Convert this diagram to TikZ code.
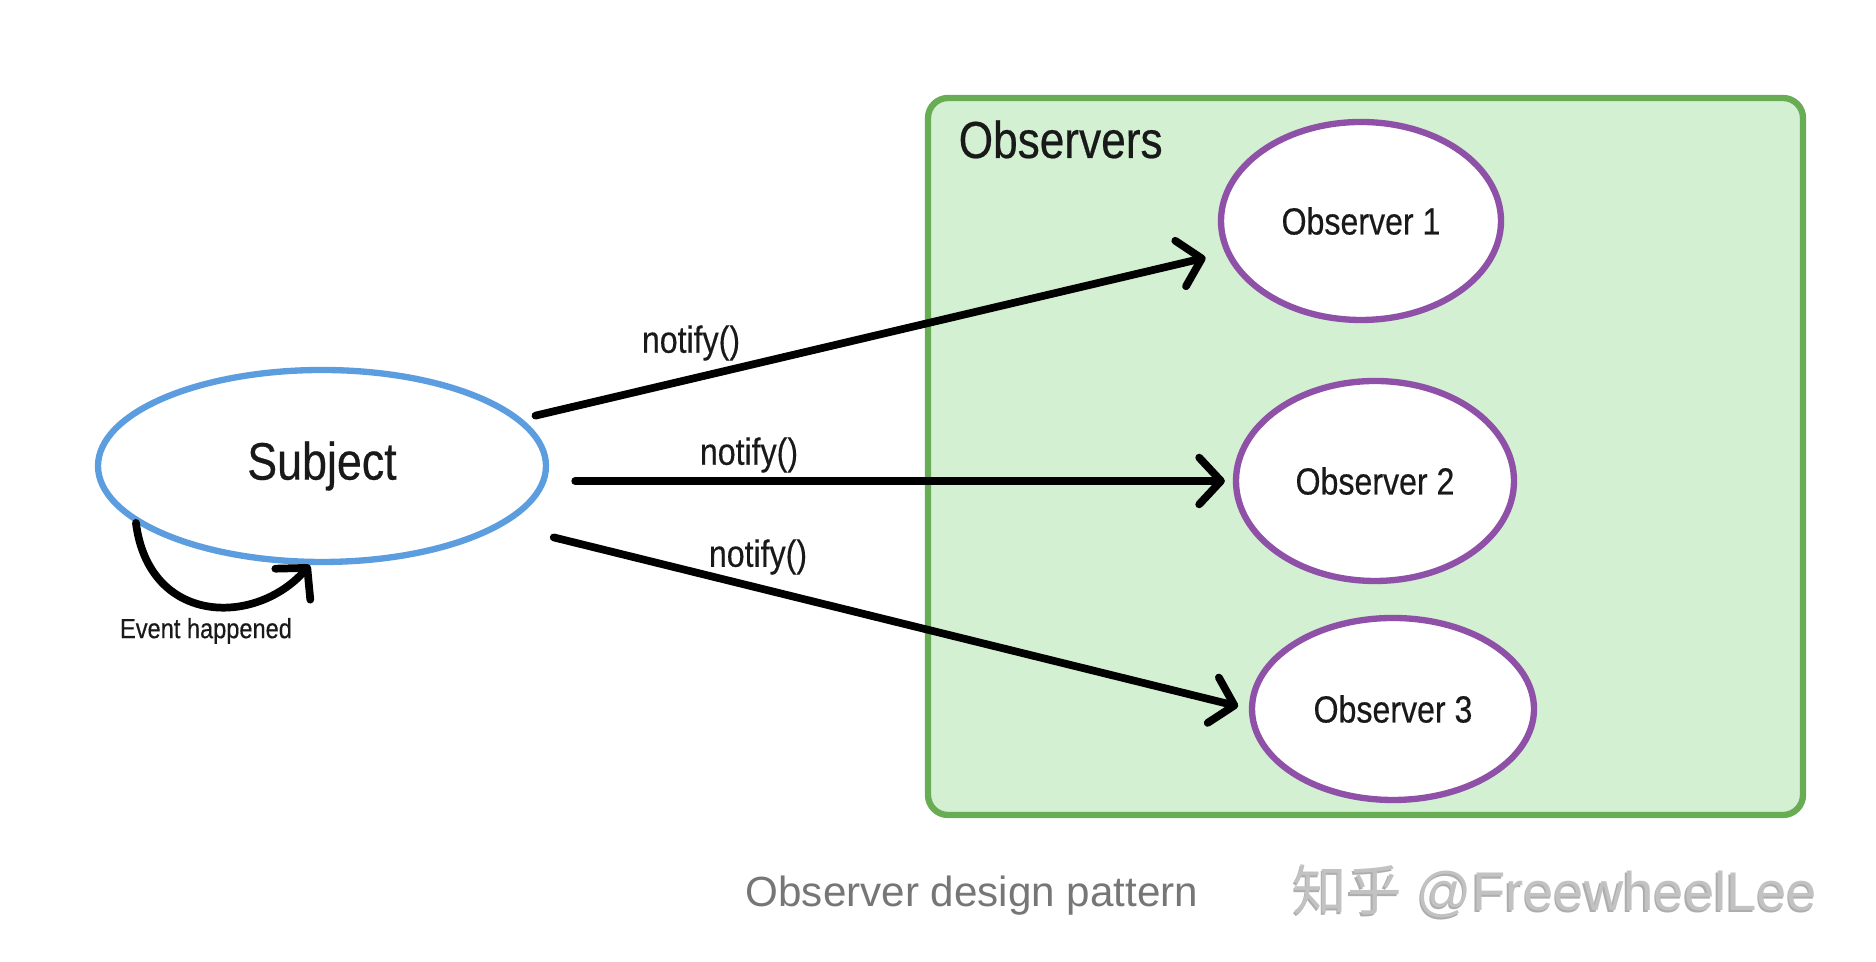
\documentclass[tikz,border=0pt]{standalone}
\usepackage{fontspec}
\setmainfont{Liberation Sans}
\newfontfamily\paintfont[FakeStretch=0.85, FakeBold=0.4]{Liberation Sans}
\newfontfamily\cjkfont{Noto Sans CJK SC}
\usetikzlibrary{shapes.geometric, arrows.meta}
\definecolor{subjectblue}{RGB}{91,157,222}
\definecolor{observerpurple}{RGB}{143,80,168}
\definecolor{groupgreen}{RGB}{104,172,84}
\definecolor{groupfill}{RGB}{211,240,210}
\definecolor{captiongray}{RGB}{118,118,118}

\begin{document}
\begin{tikzpicture}[
    paint/.style={font=\paintfont\fontsize{#1}{#1}\selectfont, text=black!90},
    subjectnode/.style={ellipse, draw=subjectblue, line width=1.8pt, fill=white, inner sep=0pt, paint=15pt},
    observer/.style={ellipse, draw=observerpurple, line width=1.8pt, fill=white, inner sep=0pt, paint=10.75pt},
    groupbox/.style={draw=groupgreen, fill=groupfill, line width=1.8pt, rounded corners=0.2cm, outer sep=0pt},
    stroke/.style={line width=2.2pt, line cap=round, -{Straight Barb[length=6.2pt, width=13.3pt, round]}},
    msg/.style={paint=10.75pt, inner sep=0pt},
    watermark/.style={anchor=base west, inner sep=0pt, font=\fontsize{15.5}{15.5}\selectfont}
]
    \useasboundingbox (0,0) rectangle (18.76,9.62);

    \node[groupbox, minimum width=8.75cm, minimum height=7.17cm] (group) at (13.655,5.055) {};
    \node[paint=14.8pt, anchor=base west, inner sep=0pt] (grouptitle) at ([xshift=0.30cm, yshift=-0.60cm]group.north west) {Observers};

    \node[subjectnode, minimum width=4.48cm, minimum height=1.92cm] (subject) at (3.22,4.96) {Subject};
    \node[observer, minimum width=2.80cm, minimum height=1.98cm] (obs1) at (13.61,7.41) {Observer 1};
    \node[observer, minimum width=2.78cm, minimum height=2.00cm] (obs2) at (13.75,4.81) {Observer 2};
    \node[observer, minimum width=2.82cm, minimum height=1.82cm] (obs3) at (13.93,2.53) {Observer 3};

    \draw[stroke, shorten <=0.14cm, shorten >=0.20cm] (subject) -- (obs1);
    \draw[stroke, shorten <=0.26cm, shorten >=0.08cm] (obs2.west -| subject.east) -- (obs2.west);
    \draw[stroke, shorten <=0.51cm, shorten >=0.11cm] (subject.-18) -- (obs3.west);
    \node[msg] (notify1) at (6.91,6.19) {notify()};
    \node[msg] (notify2) at (7.49,5.07) {notify()};
    \node[msg] (notify3) at (7.58,4.05) {notify()};

    \draw[stroke] (subject.197) .. controls +(0.13,-1.02) and +(-0.55,-0.62) .. (subject.263);
    \node[paint=7.9pt, inner sep=0pt] (event) at (2.06,3.31) {Event happened};

    \node[anchor=base west, inner sep=0pt, text=captiongray, font=\fontsize{12}{12}\selectfont] (caption) at (7.45,0.55) {Observer design pattern};
    \node[watermark, text=black!32] (markshadow) at (12.905,0.495) {{\cjkfont 知乎} @FreewheelLee};
    \node[watermark, text=black!24] (mark) at (12.92,0.51) {{\cjkfont 知乎} @FreewheelLee};
\end{tikzpicture}
\end{document}
